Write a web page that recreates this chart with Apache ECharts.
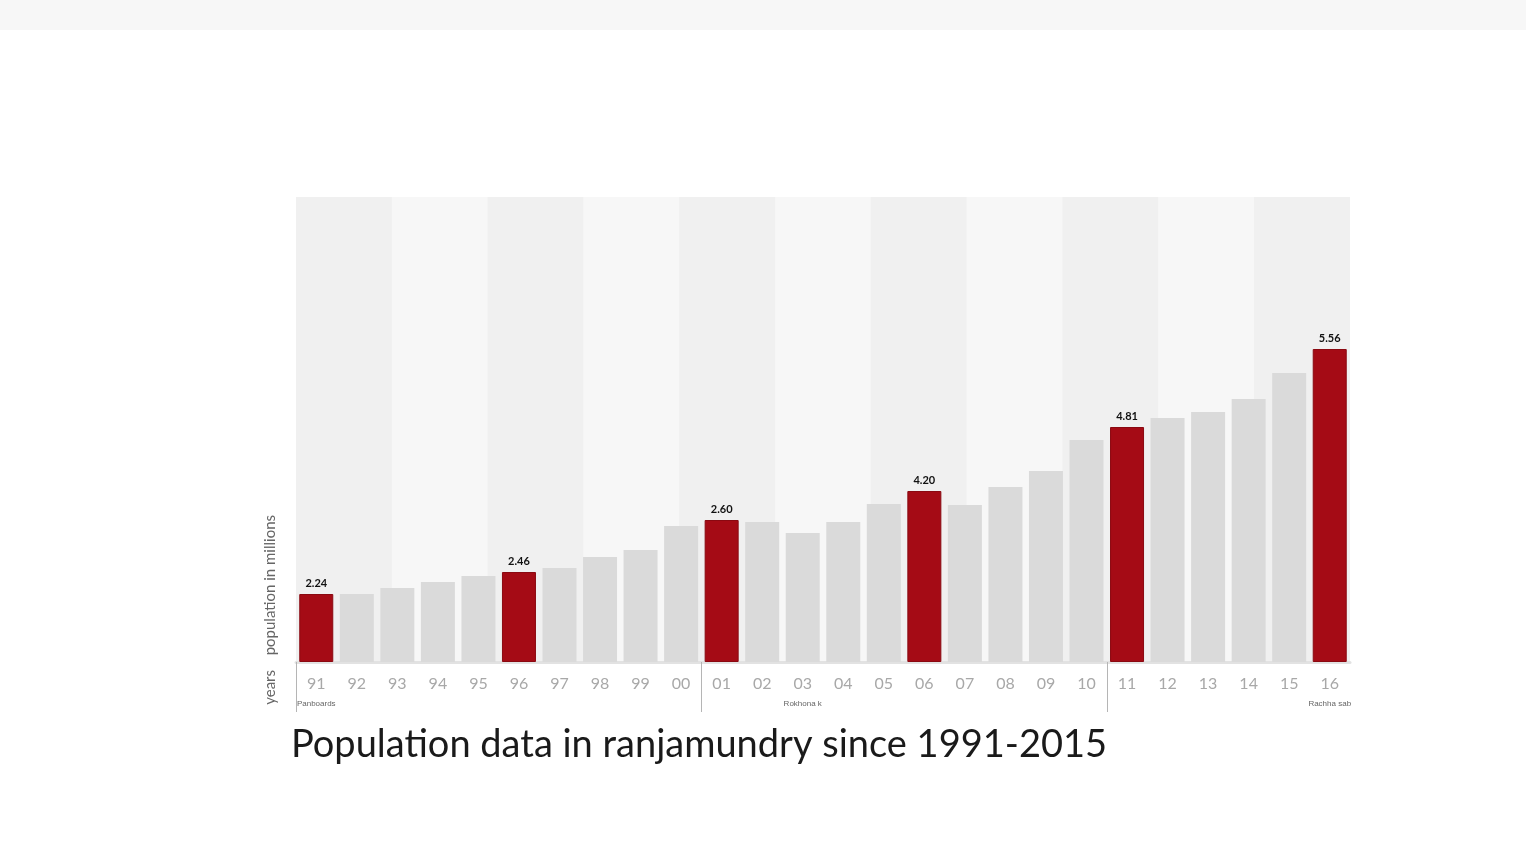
<!DOCTYPE html>
<html>
<head>
<meta charset="utf-8">
<style>
  html, body { margin: 0; padding: 0; background: #fff; }
  #chart { width: 1526px; height: 854px; }
</style>
<script src="https://cdn.jsdelivr.net/npm/echarts@6/dist/echarts.min.js"></script>
</head>
<body>
<div id="chart"></div>
<script>
// years along the axis
const years = ['91', '92', '93', '94', '95', '96', '97', '98', '99', '00', '01', '02', '03',
  '04', '05', '06', '07', '08', '09', '10', '11', '12', '13', '14', '15', '16'];
// bar heights as drawn (the printed labels are not on a linear scale)
const barHeights = [68, 68, 74, 80, 86, 90, 94, 105, 112, 136, 142, 140, 129,
  140, 158, 171, 157, 175, 191, 222, 235, 244, 250, 263, 289, 313];
// highlighted years and the numbers printed above them
const highlightYears = ['91', '96', '01', '06', '11', '16'];
const highlightLabels = ['2.24', '2.46', '2.60', '4.20', '4.81', '5.56'];
// small captions under the year row
const eraYears = ['91', '03', '16'];
const eraNames = ['Panboards', 'Rokhona k', 'Rachha sab'];
// decade dividers, in category slots from the left edge
const dividerSlots = [0, 10, 20];
// background stripes
const bandSlots = ['b1', 'b2', 'b3', 'b4', 'b5', 'b6', 'b7', 'b8', 'b9', 'b10', 'b11'];

const RED = '#a50b15';
const GRAY = '#dadada';

const chart = echarts.init(document.getElementById('chart'));

const seriesData = barHeights.map((v, i) => {
  const h = highlightYears.indexOf(years[i]);
  return {
    value: v,
    itemStyle: { color: h >= 0 ? RED : GRAY, borderColor: h >= 0 ? '#8a0911' : GRAY, borderWidth: h >= 0 ? 1 : 0 },
    label: { show: h >= 0, formatter: h >= 0 ? highlightLabels[h] : '' },
  };
});

chart.setOption({
  backgroundColor: '#fff',
  animation: false,
  title: {
    text: 'Population data in ranjamundry since 1991-2015',
    left: 286,
    top: 721,
    textStyle: { fontFamily: 'Lato', fontSize: 38, fontWeight: 'normal', color: '#1a1a1a' },
  },
  graphic: [
    { type: 'rect', left: 0, top: 0, shape: { width: 1526, height: 30 }, style: { fill: '#f7f7f7' }, silent: true },
    {
      type: 'text', left: 263, top: 515, rotation: Math.PI / 2,
      style: { text: 'population in millions', fontSize: 15, fontFamily: 'Lato', fill: '#666' },
    },
    {
      type: 'text', left: 263, top: 670, rotation: Math.PI / 2,
      style: { text: 'years', fontSize: 15, fontFamily: 'Lato', fill: '#666' },
    },
  ],
  grid: {
    left: 296,
    right: 176,
    top: 197,
    bottom: 192,
    show: true,
    backgroundColor: '#f4f4f4',
    borderWidth: 0,
  },
  xAxis: [
    {
      type: 'category',
      data: years,
      axisLine: { show: true, lineStyle: { color: '#e2e2e2', width: 3 } },
      axisTick: { show: false },
      axisLabel: {
        interval: 0,
        margin: 14,
        color: '#a8a8a8',
        fontFamily: 'Lato',
        fontSize: 16,
      },
    },
    {
      type: 'category',
      data: years,
      position: 'bottom',
      offset: 38,
      axisLine: { show: false },
      axisTick: { show: false },
      axisLabel: {
        interval: 0,
        margin: 0,
        fontSize: 8,
        color: '#666',
        formatter: (v) => {
          const k = eraYears.indexOf(v);
          return k >= 0 ? eraNames[k] : '';
        },
      },
    },
    {
      type: 'category',
      data: bandSlots,
      position: 'top',
      axisLine: { show: false },
      axisTick: { show: false },
      axisLabel: { show: false },
      splitArea: { show: true, areaStyle: { color: ['#f0f0f0', '#f7f7f7'] } },
    },
    {
      type: 'value',
      min: 0,
      max: years.length,
      position: 'bottom',
      axisLine: { show: false },
      axisLabel: { show: false },
      splitLine: { show: false },
      axisTick: {
        show: true,
        customValues: dividerSlots,
        length: 50,
        lineStyle: { color: '#b5b5b5', width: 1 },
      },
    },
  ],
  yAxis: {
    type: 'value',
    min: 0,
    max: 465,
    show: false,
    splitLine: { show: false },
  },
  series: [
    {
      type: 'bar',
      xAxisIndex: 0,
      data: seriesData,
      barWidth: 34,
      label: {
        position: 'top',
        distance: 5,
        fontSize: 11,
        fontWeight: 'bold',
        fontFamily: 'Lato',
        color: '#111',
      },
    },
  ],
});
</script>
</body>
</html>
